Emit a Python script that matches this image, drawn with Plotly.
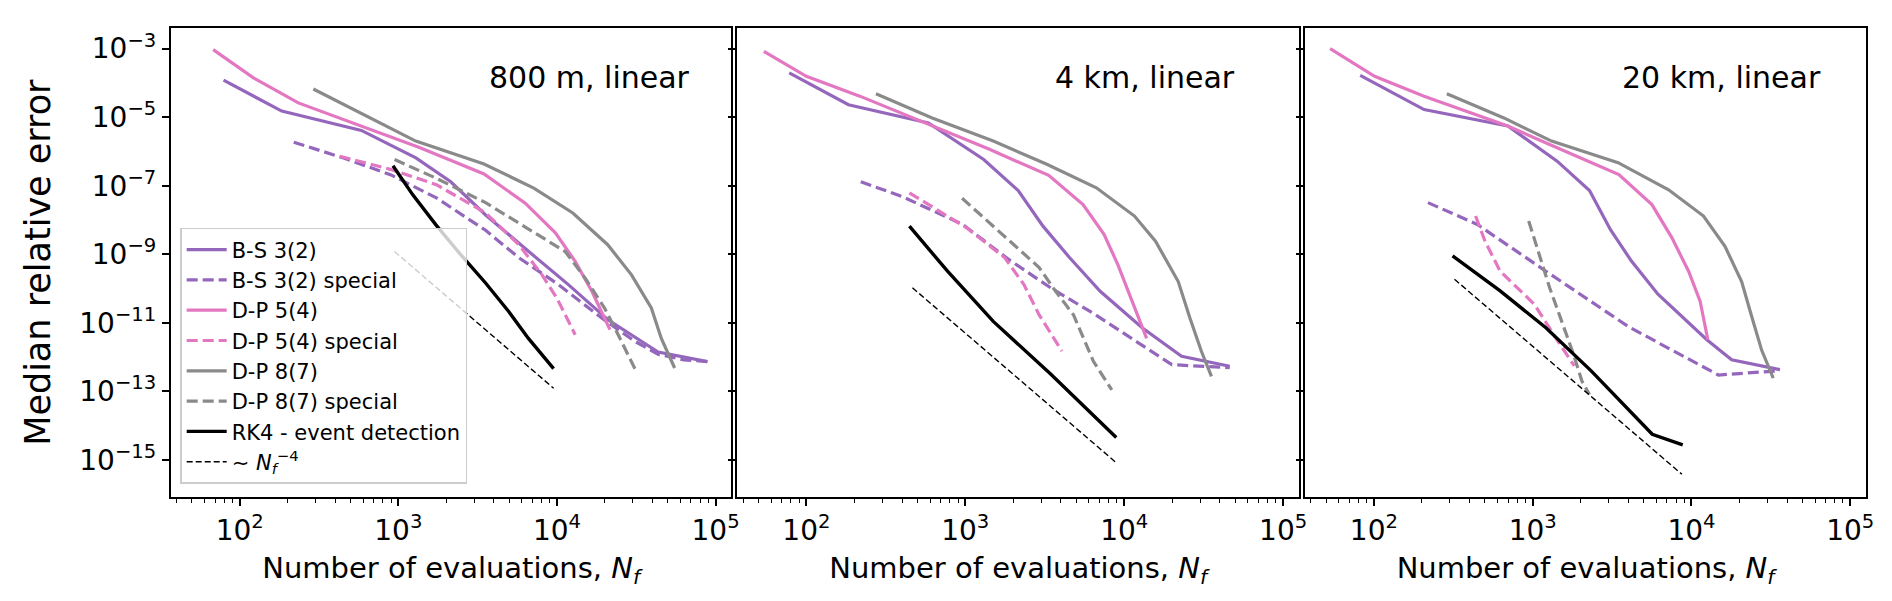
import plotly.graph_objects as go

# ---------------- data ----------------
# 800 m, linear
n_bs_800 = [79, 184, 585, 1290, 2140, 3550, 6640, 11800, 21100, 43400, 89000]
e_bs_800 = [1.2e-4, 1.5e-5, 4.1e-6, 6.5e-7, 1.3e-7, 1.4e-8, 1.2e-9, 1.3e-10, 1.2e-11, 1.4e-12, 7.4e-13]
n_bss_800 = [219, 447, 891, 1738, 3548, 5754, 10230, 19050, 30900, 43650, 63100, 89000]
e_bss_800 = [1.86e-6, 6.5e-7, 2.1e-7, 4.4e-8, 5.0e-9, 7.9e-10, 1.3e-10, 1.4e-11, 2.9e-12, 1.2e-12, 8.3e-13, 7.4e-13]
n_dp5_800 = [68, 122, 234, 598, 1358, 3467, 6310, 9772, 13030, 16600, 21580]
e_dp5_800 = [9.3e-4, 1.4e-4, 2.6e-5, 5.4e-6, 1.3e-6, 2.2e-7, 3.1e-8, 4.2e-9, 6.2e-10, 8.3e-11, 6.3e-12]
n_dp5s_800 = [427, 891, 1738, 3548, 5754, 8054, 10000, 13030]
e_dp5s_800 = [7.2e-7, 3.0e-7, 1.07e-7, 1.6e-8, 1.9e-9, 2.5e-10, 5.2e-11, 4.5e-12]
n_dp8_800 = [291, 661, 1288, 3467, 7145, 12590, 20890, 29510, 39360, 45500, 55210]
e_dp8_800 = [6.6e-5, 9.5e-6, 2.0e-6, 4.3e-7, 8.5e-8, 1.6e-8, 1.9e-9, 2.5e-10, 2.7e-11, 3.5e-12, 4.8e-13]
n_dp8s_800 = [946, 1726, 3548, 7674, 11270, 15070, 19950, 24320, 31620]
e_dp8s_800 = [5.8e-7, 1.66e-7, 3.2e-8, 3.7e-9, 1.2e-9, 2.0e-10, 2.7e-11, 4.5e-12, 3.8e-13]
n_rk4_800 = [925, 1230, 1726, 2512, 3548, 4977, 6607, 9528]
e_rk4_800 = [3.8e-7, 5.5e-8, 7.2e-9, 8.9e-10, 1.45e-10, 2.1e-11, 3.5e-12, 4.6e-13]
n_ref_800 = [946, 9528]
e_ref_800 = [1.2e-9, 1.23e-13]

# 4 km, linear
n_bs_4k = [78, 184, 586, 1306, 2153, 3083, 4539, 7063, 12970, 22960, 46130]
e_bs_4k = [1.95e-4, 2.3e-5, 6.8e-6, 5.8e-7, 7.2e-8, 6.6e-9, 7.9e-10, 8.3e-11, 7.2e-12, 1.05e-12, 5.4e-13]
n_bss_4k = [220, 398, 964, 1871, 3443, 6310, 12270, 19950, 46130]
e_bss_4k = [1.3e-7, 4.9e-8, 7.4e-9, 7.1e-10, 1.05e-10, 1.95e-11, 2.6e-12, 6.0e-13, 4.9e-13]
n_dp5_4k = [54, 100, 217, 655, 1419, 3350, 5508, 7464, 9120, 13840]
e_dp5_4k = [8.3e-4, 1.55e-4, 4.1e-5, 4.9e-6, 1.15e-6, 2.0e-7, 2.8e-8, 3.8e-9, 5.0e-10, 3.5e-12]
n_dp5s_4k = [445, 1019, 1774, 2339, 2917, 4055]
e_dp5s_4k = [6.2e-8, 5.9e-9, 7.9e-10, 1.3e-10, 1.7e-11, 1.5e-12]
n_dp8_4k = [274, 619, 1500, 3258, 6683, 11610, 15740, 21880, 25880, 30550, 35400]
e_dp8_4k = [4.8e-5, 9.5e-6, 2.0e-6, 4.2e-7, 8.7e-8, 1.3e-8, 2.4e-9, 1.6e-10, 1.4e-11, 1.5e-12, 2.75e-13]
n_dp8s_4k = [955, 1585, 2917, 3597, 4797, 6412, 8356]
e_dp8s_4k = [4.3e-8, 5.2e-9, 4.1e-10, 1.0e-10, 1.7e-11, 7.4e-13, 1.1e-13]
n_rk4_4k = [445, 773, 1500, 3443, 8913]
e_rk4_4k = [6.6e-9, 3.2e-10, 1.1e-11, 3.2e-13, 4.5e-15]
n_ref_4k = [465, 8913]
e_ref_4k = [1.05e-10, 8.3e-16]

# 20 km, linear
n_bs_20k = [82, 207, 697, 1426, 2280, 3090, 4188, 6152, 12500, 17910, 36060]
e_bs_20k = [1.66e-4, 1.66e-5, 5.5e-6, 5.2e-7, 7.2e-8, 5.2e-9, 6.3e-10, 6.8e-11, 3.2e-12, 8.3e-13, 4.3e-13]
n_bss_20k = [219, 448, 1211, 2218, 3981, 7178, 14790, 36060]
e_bss_20k = [3.2e-8, 7.4e-9, 3.2e-10, 5.0e-11, 7.9e-12, 1.8e-12, 3.0e-13, 4.0e-13]
n_dp5_20k = [53, 101, 207, 697, 1279, 3491, 5636, 7534, 9594, 11350, 12680]
e_dp5_20k = [1.0e-3, 1.55e-4, 4.1e-5, 5.5e-6, 1.6e-6, 2.1e-7, 2.8e-8, 3.0e-9, 3.2e-10, 4.2e-11, 3.2e-12]
n_dp5s_20k = [437, 501, 624, 1023, 1352, 1683, 1828]
e_dp5s_20k = [1.3e-8, 2.4e-9, 3.2e-10, 3.5e-11, 4.6e-12, 9.5e-13, 5.5e-13]
n_dp8_20k = [288, 659, 1315, 3451, 7178, 11910, 16260, 20700, 23930, 27670, 32730]
e_dp8_20k = [4.8e-5, 9.5e-6, 2.0e-6, 4.7e-7, 7.6e-8, 1.3e-8, 1.7e-9, 1.6e-10, 1.55e-11, 1.6e-12, 2.45e-13]
n_dp8s_20k = [944, 1279, 1778, 2042, 2280]
e_dp8s_20k = [9.3e-9, 1.05e-10, 1.5e-12, 2.0e-13, 8.1e-14]
n_rk4_20k = [313, 624, 1211, 2344, 5662, 8810]
e_rk4_20k = [8.9e-10, 8.5e-11, 7.2e-12, 3.9e-13, 5.6e-15, 2.75e-15]
n_ref_20k = [322, 8710]
e_ref_20k = [1.86e-10, 3.8e-16]

panel_titles = ["800 m, linear", "4 km, linear", "20 km, linear"]
title_x = [0.93, 0.89, 0.923]

series_names = ["B-S 3(2)", "B-S 3(2) special", "D-P 5(4)", "D-P 5(4) special",
                "D-P 8(7)", "D-P 8(7) special", "RK4 - event detection",
                "∼ <i>N</i><sub><i>f</i></sub><sup>−4</sup>"]

x_tickvals = [1e2, 1e3, 1e4, 1e5]
x_ticktext = ["10<sup>2</sup>", "10<sup>3</sup>", "10<sup>4</sup>", "10<sup>5</sup>"]
y_tickvals = [1e-3, 1e-5, 1e-7, 1e-9, 1e-11, 1e-13, 1e-15]
y_ticktext = ["10<sup>−3</sup>", "10<sup>−5</sup>", "10<sup>−7</sup>", "10<sup>−9</sup>",
              "10<sup>−11</sup>", "10<sup>−13</sup>", "10<sup>−15</sup>"]

# ---------------- styling ----------------
PURPLE = "#9467bd"
PINK = "#e377c2"
GRAY = "#8a8a8a"
DASH = "11px,5px"
styles = [
    (PURPLE, "solid", 3.2),
    (PURPLE, DASH, 3.2),
    (PINK, "solid", 3.2),
    (PINK, DASH, 3.2),
    (GRAY, "solid", 3.2),
    (GRAY, DASH, 3.2),
    ("black", "solid", 3.4),
    ("black", "6px,3px", 1.4),
]

panels = [
    [(n_bs_800, e_bs_800), (n_bss_800, e_bss_800), (n_dp5_800, e_dp5_800),
     (n_dp5s_800, e_dp5s_800), (n_dp8_800, e_dp8_800), (n_dp8s_800, e_dp8s_800),
     (n_rk4_800, e_rk4_800), (n_ref_800, e_ref_800)],
    [(n_bs_4k, e_bs_4k), (n_bss_4k, e_bss_4k), (n_dp5_4k, e_dp5_4k),
     (n_dp5s_4k, e_dp5s_4k), (n_dp8_4k, e_dp8_4k), (n_dp8s_4k, e_dp8s_4k),
     (n_rk4_4k, e_rk4_4k), (n_ref_4k, e_ref_4k)],
    [(n_bs_20k, e_bs_20k), (n_bss_20k, e_bss_20k), (n_dp5_20k, e_dp5_20k),
     (n_dp5s_20k, e_dp5s_20k), (n_dp8_20k, e_dp8_20k), (n_dp8s_20k, e_dp8s_20k),
     (n_rk4_20k, e_rk4_20k), (n_ref_20k, e_ref_20k)],
]

W, H = 1892, 601
x_domains = [[0.08647, 0.38398], [0.38715, 0.68525], [0.68842, 0.98626]]
y_domain = [0.1859, 0.9667]

minor_x = [m * 10 ** k for k in range(1, 6) for m in range(2, 10)]

fig = go.Figure()

for p, series in enumerate(panels):
    xa = "x" if p == 0 else f"x{p+1}"
    ya = "y" if p == 0 else f"y{p+1}"
    for s, (n, e) in enumerate(series):
        color, dash, width = styles[s]
        fig.add_trace(go.Scatter(
            x=n, y=e, mode="lines", xaxis=xa, yaxis=ya,
            name=series_names[s], showlegend=(p == 0),
            line=dict(color=color, dash=dash, width=width),
        ))

axis_common = dict(
    type="log", showgrid=False, zeroline=False,
    showline=True, mirror=True, linecolor="black", linewidth=2,
    ticks="outside", ticklen=7, tickwidth=1.6, tickcolor="black",
    tickfont=dict(size=28, color="black"),
)

layout = dict(
    width=W, height=H,
    margin=dict(l=0, r=0, t=0, b=0),
    paper_bgcolor="white", plot_bgcolor="white",
    font=dict(family="DejaVu Sans", color="black"),
    showlegend=True,
    legend=dict(
        x=0.0914, y=0.634, xanchor="left", yanchor="top",
        bgcolor="rgba(255,255,255,0.8)", bordercolor="#cccccc", borderwidth=1.5,
        font=dict(size=21, color="black"), itemwidth=40, tracegroupgap=0,
    ),
)

for p in range(3):
    xk = "xaxis" if p == 0 else f"xaxis{p+1}"
    yk = "yaxis" if p == 0 else f"yaxis{p+1}"
    ya = "y" if p == 0 else f"y{p+1}"
    layout[xk] = dict(
        axis_common, domain=x_domains[p], anchor=ya,
        range=[1.566, 5.10], tickvals=x_tickvals, ticktext=x_ticktext,
        minor=dict(tickvals=minor_x, ticks="outside", ticklen=4, tickwidth=1.2, tickcolor="black"),
        title=dict(text="Number of evaluations, <i>N</i><sub><i>f</i></sub>",
                   font=dict(size=29, color="black"), standoff=12),
    )
    layout[yk] = dict(
        axis_common, domain=y_domain, anchor="x" if p == 0 else f"x{p+1}",
        range=[-16.09, -2.40], tickvals=y_tickvals, ticktext=y_ticktext,
        showticklabels=(p == 0),
    )
    if p > 0:
        layout[yk]["matches"] = "y"

layout["yaxis"]["title"] = dict(text="Median relative error", font=dict(size=35, color="black"), standoff=18)

fig.update_layout(**layout)

for p in range(3):
    xr = "x domain" if p == 0 else f"x{p+1} domain"
    yr = "y domain" if p == 0 else f"y{p+1} domain"
    fig.add_annotation(
        xref=xr, yref=yr, x=title_x[p], y=0.895,
        text=panel_titles[p], showarrow=False,
        xanchor="right", yanchor="middle",
        font=dict(size=30, color="black"),
    )

fig.write_html("out.html")
